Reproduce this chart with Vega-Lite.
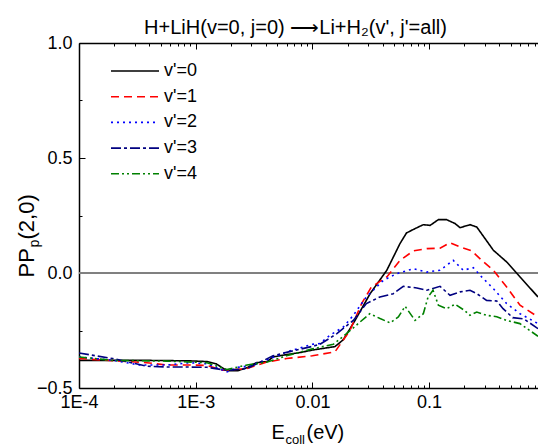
{
  "$schema": "https://vega.github.io/schema/vega-lite/v6.json",
  "width": 459,
  "height": 345,
  "autosize": {"type": "none"},
  "padding": {"left": 79, "top": 43, "right": 0, "bottom": 57},
  "background": "white",
  "config": {
    "font": "Liberation Sans",
    "view": {"stroke": null},
    "axis": {
      "grid": false,
      "domainColor": "#000000",
      "domainWidth": 1.5,
      "tickColor": "#000000",
      "tickWidth": 1,
      "labelColor": "#000000",
      "titleColor": "#000000",
      "labelFont": "Liberation Sans",
      "titleFont": "Liberation Sans",
      "titleFontWeight": "normal",
      "labelFontSize": 18,
      "titleFontSize": 20
    }
  },
  "title": {
    "text": "H+LiH(v=0, j=0) ⟶Li+H₂(v', j'=all)",
    "font": "Liberation Sans",
    "fontSize": 20,
    "fontWeight": "normal",
    "color": "#000000",
    "anchor": "middle",
    "frame": "group",
    "dx": -13,
    "dy": 28,
    "baseline": "alphabetic",
    "offset": 8
  },
  "data": {
    "values": [
      {"s": "v'=0", "e": 0.0001, "pp": -0.38},
      {"s": "v'=0", "e": 0.0002, "pp": -0.38},
      {"s": "v'=0", "e": 0.0004, "pp": -0.38},
      {"s": "v'=0", "e": 0.0009, "pp": -0.382},
      {"s": "v'=0", "e": 0.00125, "pp": -0.385},
      {"s": "v'=0", "e": 0.0015, "pp": -0.395},
      {"s": "v'=0", "e": 0.00185, "pp": -0.425},
      {"s": "v'=0", "e": 0.0023, "pp": -0.425},
      {"s": "v'=0", "e": 0.0028, "pp": -0.41},
      {"s": "v'=0", "e": 0.0033, "pp": -0.39},
      {"s": "v'=0", "e": 0.0041, "pp": -0.385},
      {"s": "v'=0", "e": 0.0046, "pp": -0.365},
      {"s": "v'=0", "e": 0.006, "pp": -0.355},
      {"s": "v'=0", "e": 0.008, "pp": -0.345},
      {"s": "v'=0", "e": 0.01, "pp": -0.335},
      {"s": "v'=0", "e": 0.0156, "pp": -0.32},
      {"s": "v'=0", "e": 0.0184, "pp": -0.29},
      {"s": "v'=0", "e": 0.0232, "pp": -0.206},
      {"s": "v'=0", "e": 0.0312, "pp": -0.09},
      {"s": "v'=0", "e": 0.0434, "pp": 0.012},
      {"s": "v'=0", "e": 0.0563, "pp": 0.128},
      {"s": "v'=0", "e": 0.064, "pp": 0.174},
      {"s": "v'=0", "e": 0.0757, "pp": 0.193},
      {"s": "v'=0", "e": 0.0892, "pp": 0.21},
      {"s": "v'=0", "e": 0.102, "pp": 0.207},
      {"s": "v'=0", "e": 0.12, "pp": 0.232},
      {"s": "v'=0", "e": 0.141, "pp": 0.232},
      {"s": "v'=0", "e": 0.167, "pp": 0.215},
      {"s": "v'=0", "e": 0.184, "pp": 0.197},
      {"s": "v'=0", "e": 0.224, "pp": 0.21},
      {"s": "v'=0", "e": 0.256, "pp": 0.2},
      {"s": "v'=0", "e": 0.301, "pp": 0.15},
      {"s": "v'=0", "e": 0.355, "pp": 0.099},
      {"s": "v'=0", "e": 0.462, "pp": 0.048},
      {"s": "v'=0", "e": 0.601, "pp": -0.017},
      {"s": "v'=0", "e": 0.857, "pp": -0.104},

      {"s": "v'=1", "e": 0.0001, "pp": -0.372},
      {"s": "v'=1", "e": 0.00026, "pp": -0.385},
      {"s": "v'=1", "e": 0.00038, "pp": -0.39},
      {"s": "v'=1", "e": 0.00057, "pp": -0.4},
      {"s": "v'=1", "e": 0.00089, "pp": -0.4},
      {"s": "v'=1", "e": 0.00125, "pp": -0.402},
      {"s": "v'=1", "e": 0.0017, "pp": -0.423},
      {"s": "v'=1", "e": 0.0027, "pp": -0.416},
      {"s": "v'=1", "e": 0.0041, "pp": -0.387},
      {"s": "v'=1", "e": 0.006, "pp": -0.372},
      {"s": "v'=1", "e": 0.01, "pp": -0.36},
      {"s": "v'=1", "e": 0.0156, "pp": -0.343},
      {"s": "v'=1", "e": 0.021, "pp": -0.249},
      {"s": "v'=1", "e": 0.0264, "pp": -0.133},
      {"s": "v'=1", "e": 0.032, "pp": -0.061},
      {"s": "v'=1", "e": 0.0434, "pp": -0.017},
      {"s": "v'=1", "e": 0.0563, "pp": 0.055},
      {"s": "v'=1", "e": 0.0733, "pp": 0.096},
      {"s": "v'=1", "e": 0.0955, "pp": 0.106},
      {"s": "v'=1", "e": 0.124, "pp": 0.108},
      {"s": "v'=1", "e": 0.151, "pp": 0.132},
      {"s": "v'=1", "e": 0.184, "pp": 0.113},
      {"s": "v'=1", "e": 0.232, "pp": 0.096},
      {"s": "v'=1", "e": 0.282, "pp": 0.055},
      {"s": "v'=1", "e": 0.355, "pp": 0.012},
      {"s": "v'=1", "e": 0.462, "pp": -0.061},
      {"s": "v'=1", "e": 0.601, "pp": -0.14},
      {"s": "v'=1", "e": 0.857, "pp": -0.191},

      {"s": "v'=2", "e": 0.0001, "pp": -0.365},
      {"s": "v'=2", "e": 0.0002, "pp": -0.38},
      {"s": "v'=2", "e": 0.00033, "pp": -0.4},
      {"s": "v'=2", "e": 0.00057, "pp": -0.4},
      {"s": "v'=2", "e": 0.00089, "pp": -0.39},
      {"s": "v'=2", "e": 0.00125, "pp": -0.395},
      {"s": "v'=2", "e": 0.00185, "pp": -0.43},
      {"s": "v'=2", "e": 0.0023, "pp": -0.41},
      {"s": "v'=2", "e": 0.0028, "pp": -0.405},
      {"s": "v'=2", "e": 0.0041, "pp": -0.377},
      {"s": "v'=2", "e": 0.006, "pp": -0.343},
      {"s": "v'=2", "e": 0.01, "pp": -0.31},
      {"s": "v'=2", "e": 0.0116, "pp": -0.307},
      {"s": "v'=2", "e": 0.0141, "pp": -0.271},
      {"s": "v'=2", "e": 0.0184, "pp": -0.235},
      {"s": "v'=2", "e": 0.0224, "pp": -0.184},
      {"s": "v'=2", "e": 0.029, "pp": -0.104},
      {"s": "v'=2", "e": 0.0405, "pp": -0.032},
      {"s": "v'=2", "e": 0.0527, "pp": -0.003},
      {"s": "v'=2", "e": 0.0733, "pp": 0.019},
      {"s": "v'=2", "e": 0.0955, "pp": 0.004},
      {"s": "v'=2", "e": 0.124, "pp": 0.012},
      {"s": "v'=2", "e": 0.161, "pp": 0.055},
      {"s": "v'=2", "e": 0.196, "pp": 0.012},
      {"s": "v'=2", "e": 0.239, "pp": 0.023},
      {"s": "v'=2", "e": 0.282, "pp": -0.017},
      {"s": "v'=2", "e": 0.355, "pp": -0.068},
      {"s": "v'=2", "e": 0.462, "pp": -0.133},
      {"s": "v'=2", "e": 0.601, "pp": -0.177},
      {"s": "v'=2", "e": 0.857, "pp": -0.22},

      {"s": "v'=3", "e": 0.0001, "pp": -0.348},
      {"s": "v'=3", "e": 0.000195, "pp": -0.372},
      {"s": "v'=3", "e": 0.00038, "pp": -0.405},
      {"s": "v'=3", "e": 0.00057, "pp": -0.409},
      {"s": "v'=3", "e": 0.00089, "pp": -0.409},
      {"s": "v'=3", "e": 0.00125, "pp": -0.41},
      {"s": "v'=3", "e": 0.00185, "pp": -0.423},
      {"s": "v'=3", "e": 0.00275, "pp": -0.416},
      {"s": "v'=3", "e": 0.0046, "pp": -0.36},
      {"s": "v'=3", "e": 0.006, "pp": -0.345},
      {"s": "v'=3", "e": 0.01, "pp": -0.319},
      {"s": "v'=3", "e": 0.0116, "pp": -0.31},
      {"s": "v'=3", "e": 0.0162, "pp": -0.264},
      {"s": "v'=3", "e": 0.0224, "pp": -0.206},
      {"s": "v'=3", "e": 0.029, "pp": -0.133},
      {"s": "v'=3", "e": 0.0379, "pp": -0.104},
      {"s": "v'=3", "e": 0.0493, "pp": -0.09},
      {"s": "v'=3", "e": 0.0601, "pp": -0.058},
      {"s": "v'=3", "e": 0.0785, "pp": -0.065},
      {"s": "v'=3", "e": 0.0955, "pp": -0.075},
      {"s": "v'=3", "e": 0.124, "pp": -0.058},
      {"s": "v'=3", "e": 0.151, "pp": -0.097},
      {"s": "v'=3", "e": 0.184, "pp": -0.082},
      {"s": "v'=3", "e": 0.224, "pp": -0.075},
      {"s": "v'=3", "e": 0.256, "pp": -0.09},
      {"s": "v'=3", "e": 0.311, "pp": -0.119},
      {"s": "v'=3", "e": 0.38, "pp": -0.122},
      {"s": "v'=3", "e": 0.43, "pp": -0.155},
      {"s": "v'=3", "e": 0.52, "pp": -0.194},
      {"s": "v'=3", "e": 0.65, "pp": -0.2},
      {"s": "v'=3", "e": 0.857, "pp": -0.242},

      {"s": "v'=4", "e": 0.0001, "pp": -0.365},
      {"s": "v'=4", "e": 0.000195, "pp": -0.38},
      {"s": "v'=4", "e": 0.00057, "pp": -0.383},
      {"s": "v'=4", "e": 0.00125, "pp": -0.39},
      {"s": "v'=4", "e": 0.00185, "pp": -0.42},
      {"s": "v'=4", "e": 0.00275, "pp": -0.4},
      {"s": "v'=4", "e": 0.0041, "pp": -0.387},
      {"s": "v'=4", "e": 0.006, "pp": -0.36},
      {"s": "v'=4", "e": 0.01, "pp": -0.33},
      {"s": "v'=4", "e": 0.0151, "pp": -0.31},
      {"s": "v'=4", "e": 0.0196, "pp": -0.264},
      {"s": "v'=4", "e": 0.0256, "pp": -0.213},
      {"s": "v'=4", "e": 0.031, "pp": -0.177},
      {"s": "v'=4", "e": 0.038, "pp": -0.198},
      {"s": "v'=4", "e": 0.0463, "pp": -0.217},
      {"s": "v'=4", "e": 0.0545, "pp": -0.191},
      {"s": "v'=4", "e": 0.0623, "pp": -0.145},
      {"s": "v'=4", "e": 0.0757, "pp": -0.206},
      {"s": "v'=4", "e": 0.0892, "pp": -0.177},
      {"s": "v'=4", "e": 0.098, "pp": -0.104},
      {"s": "v'=4", "e": 0.108, "pp": -0.075},
      {"s": "v'=4", "e": 0.12, "pp": -0.14},
      {"s": "v'=4", "e": 0.141, "pp": -0.155},
      {"s": "v'=4", "e": 0.167, "pp": -0.136},
      {"s": "v'=4", "e": 0.2, "pp": -0.162},
      {"s": "v'=4", "e": 0.224, "pp": -0.184},
      {"s": "v'=4", "e": 0.256, "pp": -0.17},
      {"s": "v'=4", "e": 0.311, "pp": -0.184},
      {"s": "v'=4", "e": 0.38, "pp": -0.19},
      {"s": "v'=4", "e": 0.46, "pp": -0.206},
      {"s": "v'=4", "e": 0.6, "pp": -0.22},
      {"s": "v'=4", "e": 0.857, "pp": -0.275}
    ]
  },
  "layer": [
    {
      "mark": {"type": "rule", "color": "#808080", "strokeWidth": 1},
      "encoding": {"y": {"datum": 0, "type": "quantitative", "scale": {"domain": [-0.5, 1], "nice": false, "zero": false}, "axis": null}}
    },
    {
      "mark": {"type": "line", "strokeWidth": 1.6, "clip": true},
      "encoding": {
        "x": {
          "field": "e", "type": "quantitative",
          "scale": {"type": "log", "domain": [0.0001, 0.857], "nice": false},
          "axis": {
            "orient": "bottom",
            "values": [0.0001, 0.001, 0.01, 0.1],
            "labelExpr": "datum.value < 0.0005 ? '1E-4' : datum.value < 0.005 ? '1E-3' : datum.value < 0.05 ? '0.01' : '0.1'",
            "tickSize": -6,
            "labelPadding": 11,
            "labelFlush": false,
            "labelOverlap": false,
            "title": "E",
            "titleAlign": "left",
            "titleBaseline": "alphabetic",
            "titleX": 192,
            "titleY": 50
          }
        },
        "y": {
          "field": "pp", "type": "quantitative",
          "scale": {"domain": [-0.5, 1], "nice": false, "zero": false},
          "axis": {
            "orient": "left",
            "values": [-0.5, 0, 0.5, 1],
            "format": ".1f",
            "tickSize": -6,
            "labelPadding": 13,
            "labelFlush": false,
            "labelOverlap": false,
            "title": "PP",
            "titleFontSize": 22,
            "titleAngle": 270,
            "titleAlign": "left",
            "titleBaseline": "alphabetic",
            "titleX": -46,
            "titleY": 234
          }
        },
        "color": {
          "field": "s", "type": "nominal",
          "scale": {"domain": ["v'=0", "v'=1", "v'=2", "v'=3", "v'=4"], "range": ["#000000", "#FF0000", "#0000FF", "#000080", "#008000"]},
          "legend": {"orient": "none", "legendX": 43, "legendY": 15, "title": null, "symbolType": "M-2,0L2,0", "symbolSize": 576, "symbolStrokeWidth": 1.6, "labelFontSize": 18, "labelFont": "Liberation Sans", "labelColor": "#000000", "labelOffset": 16, "rowPadding": 3.7, "padding": 0}
        },
        "strokeDash": {
          "field": "s", "type": "nominal",
          "scale": {"domain": ["v'=0", "v'=1", "v'=2", "v'=3", "v'=4"], "range": [[1, 0], [8, 5], [2, 4], [10, 3, 3, 3], [8, 3, 2, 3, 2, 3]]},
          "legend": {"orient": "none", "legendX": 43, "legendY": 15, "title": null, "symbolType": "M-2,0L2,0", "symbolSize": 576, "symbolStrokeWidth": 1.6, "labelFontSize": 18, "labelFont": "Liberation Sans", "labelColor": "#000000", "labelOffset": 16, "rowPadding": 3.7, "padding": 0}
        }
      }
    },
    {
      "mark": {"type": "point", "opacity": 0},
      "encoding": {
        "x": {
          "field": "e", "type": "quantitative",
          "axis": {
            "orient": "bottom",
            "values": [0.0002, 0.0003, 0.0004, 0.0005, 0.0006, 0.0007, 0.0008, 0.0009, 0.002, 0.003, 0.004, 0.005, 0.006, 0.007, 0.008, 0.009, 0.02, 0.03, 0.04, 0.05, 0.06, 0.07, 0.08, 0.09, 0.2, 0.3, 0.4, 0.5, 0.6, 0.7, 0.8],
            "labels": false,
            "domain": false,
            "tickSize": -3,
            "title": "coll",
            "titleFontSize": 13,
            "titleAlign": "left",
            "titleBaseline": "alphabetic",
            "titleX": 206,
            "titleY": 55
          }
        },
        "y": {
          "field": "pp", "type": "quantitative",
          "axis": {
            "orient": "left",
            "values": [-0.25, 0.25, 0.75],
            "labels": false,
            "domain": false,
            "tickSize": -3,
            "title": "p",
            "titleFontSize": 14,
            "titleAngle": 270,
            "titleAlign": "left",
            "titleBaseline": "alphabetic",
            "titleX": -41,
            "titleY": 204
          }
        }
      }
    },
    {
      "mark": {"type": "point", "opacity": 0},
      "encoding": {
        "x": {
          "field": "e", "type": "quantitative",
          "axis": {
            "orient": "top",
            "values": [0.0001, 0.001, 0.01, 0.1],
            "labels": false,
            "tickSize": -6,
            "title": "(eV)",
            "titleAlign": "left",
            "titleBaseline": "alphabetic",
            "titleX": 227,
            "titleY": 395
          }
        },
        "y": {
          "field": "pp", "type": "quantitative",
          "axis": {
            "orient": "left",
            "labels": false,
            "domain": false,
            "ticks": false,
            "title": "(2,0)",
            "titleFontSize": 22,
            "titleAngle": 270,
            "titleAlign": "left",
            "titleBaseline": "alphabetic",
            "titleX": -46,
            "titleY": 196
          }
        }
      }
    },
    {
      "mark": {"type": "point", "opacity": 0},
      "encoding": {
        "x": {
          "field": "e", "type": "quantitative",
          "axis": {
            "orient": "top",
            "values": [0.0002, 0.0003, 0.0004, 0.0005, 0.0006, 0.0007, 0.0008, 0.0009, 0.002, 0.003, 0.004, 0.005, 0.006, 0.007, 0.008, 0.009, 0.02, 0.03, 0.04, 0.05, 0.06, 0.07, 0.08, 0.09, 0.2, 0.3, 0.4, 0.5, 0.6, 0.7, 0.8],
            "labels": false,
            "domain": false,
            "tickSize": -3,
            "title": null
          }
        },
        "y": {"field": "pp", "type": "quantitative", "axis": null}
      }
    }
  ],
  "resolve": {"axis": {"x": "independent", "y": "independent"}}
}
